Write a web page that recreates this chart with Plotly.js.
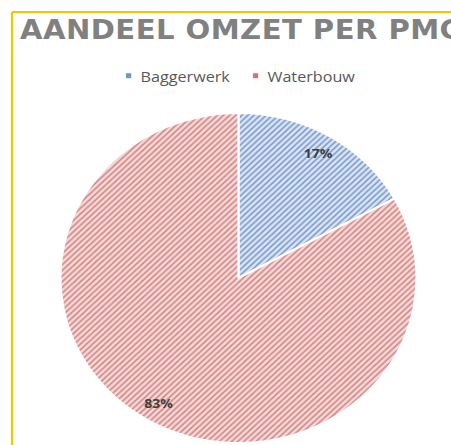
<!DOCTYPE html>
<html>
<head>
<meta charset="utf-8">
<script src="https://cdn.plot.ly/plotly-3.0.1.min.js"></script>
<style>
  html, body { margin: 0; padding: 0; background: #ffffff; overflow: hidden; }
  #chart { width: 418px; height: 445px; transform: scaleX(1.079); transform-origin: 0 0; }
  #chart .gtitle { letter-spacing: 0.4px; }
  #chart .legend .scrollbox { clip-path: none !important; }
  #chart path.legendpie { transform: translate(29px, 0px) scale(0.5); }
  #chart .legend g.traces:nth-of-type(1) path.legendpie { fill: #7394cb !important; }
  #chart .legend g.traces:nth-of-type(2) path.legendpie { fill: #d27472 !important; }
</style>
</head>
<body>
<div id="chart"></div>
<script>
const categories = ["Baggerwerk", "Waterbouw"];
const shares = [17, 83];
const titleText = "AANDEEL OMZET PER PMC";

const W = 418, H = 445;
const cx = 221, cy = 278, R = 165;

const fillBg = ["#dce6f2", "#f2dcdb"];
const fillFg = ["#7c9cd0", "#d98684"];

const domain = {
  x: [(cx - R) / W, (cx + R) / W],
  y: [(H - cy - R) / H, (H - cy + R) / H]
};

// the visible pie
const pieTrace = {
  type: "pie",
  labels: categories,
  values: shares,
  sort: false,
  direction: "clockwise",
  rotation: 0,
  textinfo: "none",
  hoverinfo: "none",
  marker: {
    colors: fillBg,
    line: { color: "#ffffff", width: 2 },
    pattern: { shape: "/", fgcolor: fillFg, bgcolor: fillBg, size: 4, solidity: 0.4, fillmode: "replace" }
  },
  domain: domain
};

// invisible outer ring on top that only carries the percentage labels near the rim
const labelTrace = {
  type: "pie",
  labels: categories,
  values: shares,
  sort: false,
  direction: "clockwise",
  rotation: 0,
  hole: 0.76,
  showlegend: false,
  textinfo: "percent",
  texttemplate: "%{percent:.0%}",
  textposition: "inside",
  insidetextorientation: "horizontal",
  textfont: { family: "Open Sans", size: 13, color: "#404040", weight: "bold" },
  hoverinfo: "none",
  marker: {
    colors: ["rgba(0,0,0,0)", "rgba(0,0,0,0)"],
    line: { width: 0 }
  },
  domain: domain
};

const bx = 11.1 / W, by = 1 - 12 / H;

const layout = {
  width: W,
  height: H,
  margin: { l: 0, r: 0, t: 0, b: 0, pad: 0 },
  paper_bgcolor: "#ffffff",
  title: {
    text: titleText,
    font: { family: "DejaVu Sans", size: 27, color: "#808080", weight: "bold" },
    xref: "container", yref: "container",
    x: 18.5 / W, xanchor: "left",
    y: 1 - 29.5 / H, yanchor: "middle"
  },
  showlegend: true,
  legend: {
    orientation: "h",
    x: 0.498, xanchor: "center",
    y: 1 - 76 / H, yanchor: "middle",
    entrywidth: 72.7,
    font: { family: "Open Sans", size: 15, color: "#595959" },
    bgcolor: "rgba(0,0,0,0)"
  },
  shapes: [
    { type: "line", xref: "paper", yref: "paper", x0: bx, x1: bx, y0: -0.01, y1: by,
      line: { color: "#ffc000", width: 2 } },
    { type: "line", xref: "paper", yref: "paper", x0: bx, x1: 1.01, y0: by, y1: by,
      line: { color: "#ffc000", width: 2 } }
  ]
};

Plotly.newPlot("chart", [pieTrace, labelTrace], layout, { displayModeBar: false, staticPlot: true });
</script>
</body>
</html>
